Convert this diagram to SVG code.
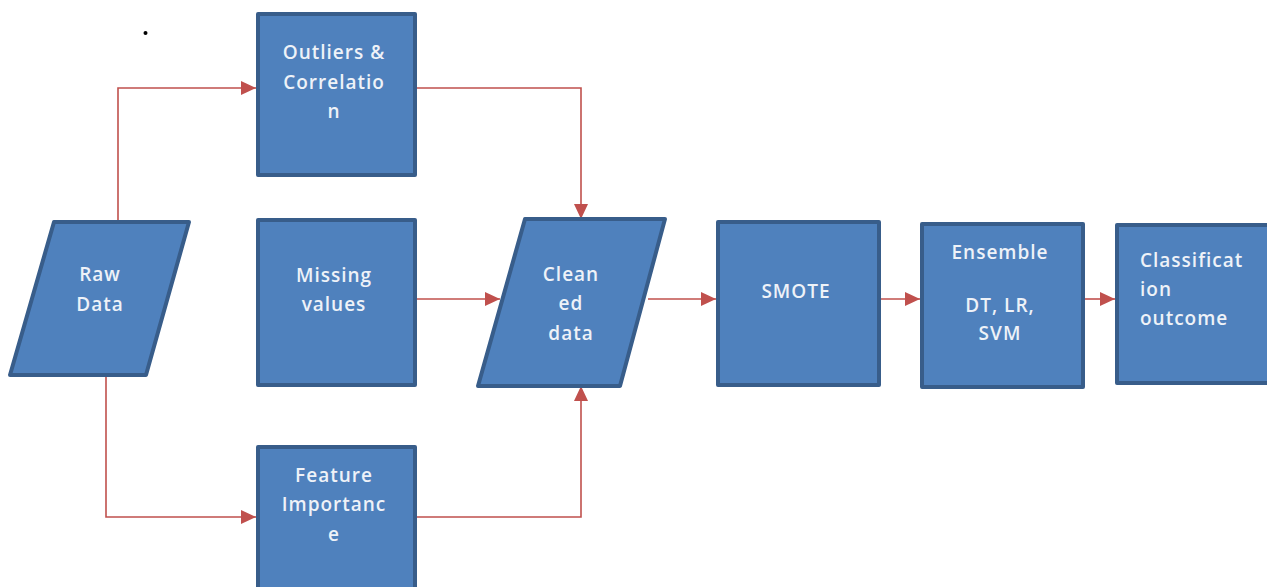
<svg xmlns="http://www.w3.org/2000/svg" width="1267" height="587" viewBox="0 0 1267 587">
<style>
.n{fill:#4F81BD;stroke:#385D8A;stroke-width:4;stroke-linejoin:round}
.t{font-family:"Open Sans","Liberation Sans",sans-serif;font-size:19px;font-weight:600;letter-spacing:1px;fill:#EEF2F8;text-anchor:middle}
.l{text-anchor:start}
.c{fill:none;stroke:#C0504D;stroke-width:1.6}
</style>
<defs>
<marker id="a" markerUnits="userSpaceOnUse" markerWidth="16" markerHeight="14" refX="15" refY="7" orient="auto">
<path d="M0,0 L15,7 L0,14 Z" fill="#C0504D"/>
</marker>
</defs>
<rect width="1267" height="587" fill="#FFFFFF"/>
<circle cx="145.5" cy="33" r="2" fill="#000"/>
<g id="connectors">
<path class="c" d="M118,222 V88 H256" marker-end="url(#a)"/>
<path class="c" d="M106,375 V517 H256" marker-end="url(#a)"/>
<path class="c" d="M417,88 H581 V219" marker-end="url(#a)"/>
<path class="c" d="M417,517 H581 V386" marker-end="url(#a)"/>
<path class="c" d="M417,299 H500" marker-end="url(#a)"/>
<path class="c" d="M648,299 H716" marker-end="url(#a)"/>
<path class="c" d="M881,299 H920" marker-end="url(#a)"/>
<path class="c" d="M1085,299 H1115" marker-end="url(#a)"/>
</g>
<g id="raw-data">
<polygon class="n" points="54,222 189,222 146,375 10,375"/>
<text class="t" x="100" y="281">Raw</text>
<text class="t" x="100" y="311">Data</text>
</g>
<g id="outliers">
<rect class="n" x="258" y="14" width="157" height="161"/>
<text class="t" x="334" y="59">Outliers &amp;</text>
<text class="t" x="334" y="89">Correlatio</text>
<text class="t" x="334" y="118">n</text>
</g>
<g id="missing">
<rect class="n" x="258" y="220" width="157" height="165"/>
<text class="t" x="334" y="282">Missing</text>
<text class="t" x="334" y="311">values</text>
</g>
<g id="feature">
<rect class="n" x="258" y="447" width="157" height="150"/>
<text class="t" x="334" y="482">Feature</text>
<text class="t" x="334" y="511">Importanc</text>
<text class="t" x="334" y="541">e</text>
</g>
<g id="cleaned">
<polygon class="n" points="525,219 665,219 620,386 478,386"/>
<text class="t" x="571" y="281">Clean</text>
<text class="t" x="571" y="310">ed</text>
<text class="t" x="571" y="340">data</text>
</g>
<g id="smote">
<rect class="n" x="718" y="222" width="161" height="163"/>
<text class="t" x="796" y="298">SMOTE</text>
</g>
<g id="ensemble">
<rect class="n" x="922" y="224" width="161" height="163"/>
<text class="t" x="1000" y="259">Ensemble</text>
<text class="t" x="1000" y="312">DT, LR,</text>
<text class="t" x="1000" y="340">SVM</text>
</g>
<g id="classification">
<rect class="n" x="1117" y="225" width="160" height="158"/>
<text class="t l" x="1140" y="267">Classificat</text>
<text class="t l" x="1140" y="296">ion</text>
<text class="t l" x="1140" y="325">outcome</text>
</g>
</svg>
